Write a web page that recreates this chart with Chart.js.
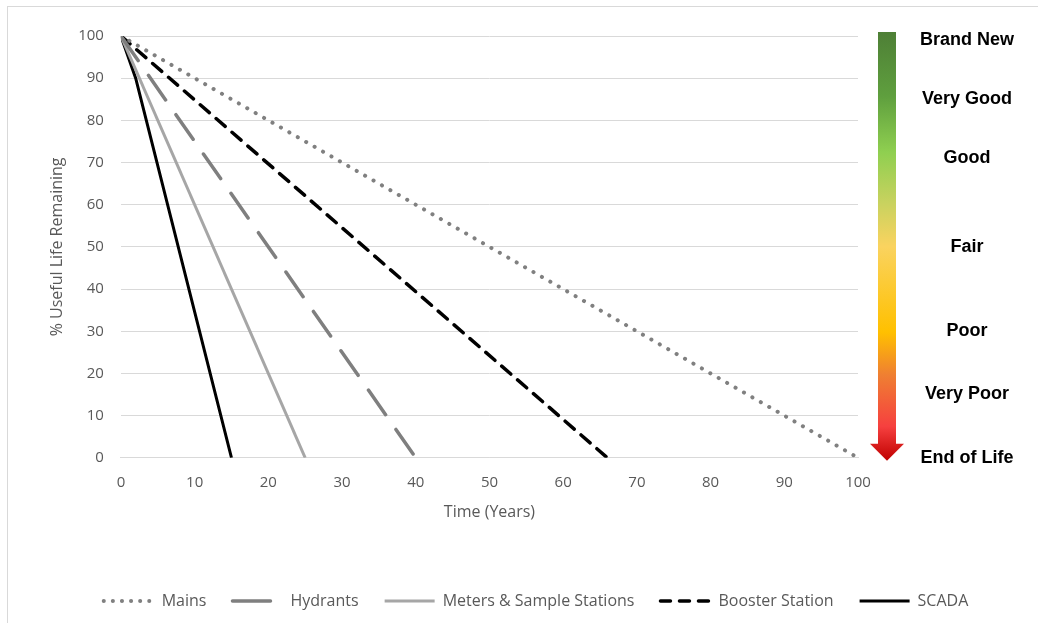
<!DOCTYPE html>
<html>
<head>
<meta charset="utf-8">
<script src="https://cdn.jsdelivr.net/npm/chart.js@4.4.1/dist/chart.umd.min.js"></script>
<style>
  html, body { margin: 0; padding: 0; background: #fff; }
  #wrap { width: 1038px; height: 623px; }
</style>
</head>
<body>
<div id="wrap"><canvas id="myChart"></canvas></div>
<script>
// years on x, % useful life remaining on y
const mainsYears = [0, 100];
const mainsLife = [100, 0];
const hydrantYears = [0, 40];
const hydrantLife = [100, 0];
const meterYears = [0, 25];
const meterLife = [100, 0];
const boosterYears = [0, 66];
const boosterLife = [100, 0];
const scadaYears = [0, 2, 15];
const scadaLife = [100, 90, 0];

const xTicks = [0, 10, 20, 30, 40, 50, 60, 70, 80, 90, 100];
const yTicks = [0, 10, 20, 30, 40, 50, 60, 70, 80, 90, 100];

// condition scale on the right, placed at a % life value
const conditionLabels = ["Brand New", "Very Good", "Good", "Fair", "Poor", "Very Poor", "End of Life"];
const conditionValues = [99, 85, 71, 50, 30, 15, 0];

const toPoints = (xs, ys) => xs.map((x, i) => ({ x: x, y: ys[i] }));

const frame = {
  id: "frame",
  beforeDraw(chart) {
    const ctx = chart.ctx;
    ctx.save();
    ctx.strokeStyle = "#d9d9d9";
    ctx.lineWidth = 1;
    ctx.strokeRect(7.5, 6.5, 1100, 700);
    ctx.restore();
  },
};

const conditionArrow = {
  id: "conditionArrow",
  afterDraw(chart) {
    const ctx = chart.ctx;
    const y = chart.scales.y;
    const top = y.getPixelForValue(100) - 4;
    const bottom = y.getPixelForValue(0) + 3;
    const cx = chart.chartArea.right + 29;
    const headTop = bottom - 17;

    const grad = ctx.createLinearGradient(0, top, 0, bottom);
    grad.addColorStop(0, "#4e7f36");
    grad.addColorStop(0.15, "#5f9f3e");
    grad.addColorStop(0.28, "#8fcf50");
    grad.addColorStop(0.4, "#c9d25f");
    grad.addColorStop(0.5, "#fad35f");
    grad.addColorStop(0.7, "#ffc000");
    grad.addColorStop(0.8, "#ef7f32");
    grad.addColorStop(0.92, "#f6403f");
    grad.addColorStop(1, "#c00000");

    ctx.save();
    ctx.fillStyle = grad;
    ctx.beginPath();
    ctx.moveTo(cx - 9, top);
    ctx.lineTo(cx + 9, top);
    ctx.lineTo(cx + 9, headTop);
    ctx.lineTo(cx + 17, headTop);
    ctx.lineTo(cx, bottom);
    ctx.lineTo(cx - 17, headTop);
    ctx.lineTo(cx - 9, headTop);
    ctx.closePath();
    ctx.fill();

    ctx.fillStyle = "#000";
    ctx.font = "bold 18px 'Liberation Sans', Arial, sans-serif";
    ctx.textAlign = "center";
    ctx.textBaseline = "middle";
    conditionLabels.forEach((txt, i) => {
      ctx.fillText(txt, chart.chartArea.right + 109, y.getPixelForValue(conditionValues[i]));
    });
    ctx.restore();
  },
};

Chart.defaults.font.family = "'Open Sans', sans-serif";
Chart.defaults.color = "#595959";

const ctx = document.getElementById("myChart").getContext("2d");
const chart = new Chart(ctx, {
  type: "line",
  data: {
    datasets: [
      {
        label: "Mains",
        data: toPoints(mainsYears, mainsLife),
        borderColor: "#808080",
        borderWidth: 4,
        borderDash: [0.1, 9.6],
        borderCapStyle: "round",
        legendDash: [0.1, 9],
      },
      {
        label: "Hydrants",
        data: toPoints(hydrantYears, hydrantLife),
        borderColor: "#7f7f7f",
        borderWidth: 3.5,
        borderDash: [30, 18],
        borderCapStyle: "round",
        legendDash: [38, 40],
      },
      {
        label: "Meters & Sample Stations",
        data: toPoints(meterYears, meterLife),
        borderColor: "#a6a6a6",
        borderWidth: 3,
      },
      {
        label: "Booster Station",
        data: toPoints(boosterYears, boosterLife),
        borderColor: "#000000",
        borderWidth: 3.5,
        borderDash: [12, 9],
        borderCapStyle: "round",
        legendDash: [10, 9],
      },
      {
        label: "SCADA",
        data: toPoints(scadaYears, scadaLife),
        borderColor: "#000000",
        borderWidth: 3,
      },
    ],
  },
  options: {
    responsive: true,
    maintainAspectRatio: false,
    animation: false,
    devicePixelRatio: 1,
    parsing: false,
    elements: { point: { radius: 0 }, line: { tension: 0, fill: false } },
    layout: { padding: { top: 36, right: 14, left: 48, bottom: 4 } },
    plugins: {
      tooltip: { enabled: false },
      legend: {
        position: "bottom",
        labels: {
          usePointStyle: true,
          pointStyle: "line",
          pointStyleWidth: 50,
          padding: 26,
          font: { size: 16 },
          color: "#595959",
          // keep the dash pattern of each line in its legend sample
          generateLabels: (chart) =>
            chart.data.datasets.map((ds, i) => ({
              text: ds.label,
              strokeStyle: ds.borderColor,
              fillStyle: ds.borderColor,
              lineWidth: ds.borderWidth,
              lineDash: ds.legendDash || [],
              lineCap: ds.borderCapStyle || "butt",
              pointStyle: "line",
              fontColor: "#595959",
              datasetIndex: i,
              hidden: false,
            })),
        },
      },
    },
    scales: {
      x: {
        type: "linear",
        min: 0,
        max: 100,
        afterBuildTicks: (axis) => { axis.ticks = xTicks.map((v) => ({ value: v })); },
        grid: { display: false, drawTicks: false },
        border: { display: true, color: "#d9d9d9" },
        ticks: { padding: 16, font: { size: 15 }, color: "#595959" },
        title: {
          display: true,
          text: "Time (Years)",
          font: { size: 16 },
          color: "#595959",
          padding: { top: -5, bottom: 45 },
        },
      },
      y: {
        min: 0,
        max: 100,
        afterBuildTicks: (axis) => { axis.ticks = yTicks.map((v) => ({ value: v })); },
        afterFit: (scale) => { scale.width -= 10; },
        grid: { color: "#d9d9d9", drawTicks: false },
        border: { display: false },
        ticks: { padding: 17, font: { size: 15 }, color: "#595959" },
        title: {
          display: true,
          text: "% Useful Life Remaining",
          font: { size: 16 },
          color: "#595959",
          padding: { top: 0, bottom: 4 },
        },
      },
      // empty axis that keeps room for the condition arrow
      side: {
        type: "linear",
        position: "right",
        display: true,
        afterFit: (scale) => { scale.width = 166; },
        grid: { display: false, drawTicks: false },
        border: { display: false },
        ticks: { display: false },
      },
    },
  },
  plugins: [frame, conditionArrow],
});
</script>
</body>
</html>
